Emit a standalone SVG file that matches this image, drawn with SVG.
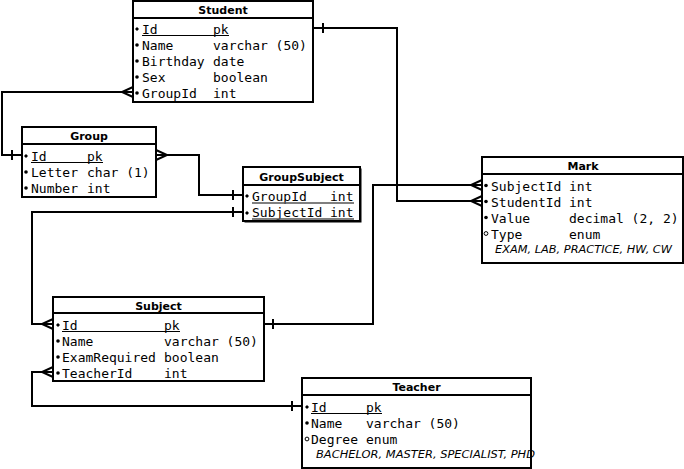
<svg xmlns="http://www.w3.org/2000/svg" width="684" height="469" viewBox="0 0 684 469">
<style>
.box{fill:#fff;stroke:#000;stroke-width:2}
.sep{stroke:#000;stroke-width:2}
.title{font-family:"DejaVu Sans",sans-serif;font-weight:bold;font-size:11px;text-anchor:middle;fill:#000}
.f{font-family:"DejaVu Sans Mono",monospace;font-size:13px;fill:#000}
.en{font-family:"DejaVu Sans",sans-serif;font-style:italic;font-size:11px;fill:#000}
.ul{stroke:#000;stroke-width:1.2}
.ul2{stroke:#555;stroke-width:1.6}
.dot{fill:#000}
.hol{fill:#fff;stroke:#000;stroke-width:1}
.c{fill:none;stroke:#000;stroke-width:2}
</style>
<g id="connectors">
  <path class="c" d="M313,28 H397 V201 H482"/>
  <path class="c" d="M323,23 V33"/>
  <path class="c" d="M482,196 L471,201 L482,206"/>
  <path class="c" d="M133,92 H2 V155 H22"/>
  <path class="c" d="M133,87 L122,92 L133,97"/>
  <path class="c" d="M12,150 V160"/>
  <path class="c" d="M156,155 H199 V195 H243"/>
  <path class="c" d="M156,150 L167,155 L156,160"/>
  <path class="c" d="M233,190 V200"/>
  <path class="c" d="M243,212 H32 V324 H53"/>
  <path class="c" d="M233,207 V217"/>
  <path class="c" d="M53,319 L42,324 L53,329"/>
  <path class="c" d="M264,324 H373 V185 H482"/>
  <path class="c" d="M273,319 V329"/>
  <path class="c" d="M482,180 L471,185 L482,190"/>
  <path class="c" d="M53,372 H32 V406 H302"/>
  <path class="c" d="M53,367 L42,372 L53,377"/>
  <path class="c" d="M292,401 V411"/>
</g>
<g id="Student">
  <rect class="box" x="133" y="1" width="180" height="101"/>
  <line class="sep" x1="133" y1="18" x2="313" y2="18"/>
  <text class="title" x="223" y="14">Student</text>
  <polygon class="dot" points="137,27 139,29 137,31 135,29"/>
  <circle class="dot" cx="137" cy="45" r="1.8"/>
  <circle class="dot" cx="137" cy="61" r="1.8"/>
  <circle class="dot" cx="137" cy="77" r="1.8"/>
  <circle class="dot" cx="137" cy="93" r="1.8"/>
  <text class="f" y="34"><tspan x="142">Id</tspan><tspan x="213">pk</tspan></text>
  <line class="ul" x1="142" y1="35.5" x2="229" y2="35.5"/>
  <text class="f" y="50"><tspan x="142">Name</tspan><tspan x="213">varchar (50)</tspan></text>
  <text class="f" y="66"><tspan x="142">Birthday</tspan><tspan x="213">date</tspan></text>
  <text class="f" y="82"><tspan x="142">Sex</tspan><tspan x="213">boolean</tspan></text>
  <text class="f" y="98"><tspan x="142">GroupId</tspan><tspan x="213">int</tspan></text>
</g>
<g id="Group">
  <rect class="box" x="22" y="127" width="134" height="70"/>
  <line class="sep" x1="22" y1="144" x2="156" y2="144"/>
  <text class="title" x="89" y="140">Group</text>
  <polygon class="dot" points="26,154 28,156 26,158 24,156"/>
  <circle class="dot" cx="26" cy="172" r="1.8"/>
  <circle class="dot" cx="26" cy="188" r="1.8"/>
  <text class="f" y="161"><tspan x="31">Id</tspan><tspan x="87">pk</tspan></text>
  <line class="ul" x1="31" y1="162.5" x2="103" y2="162.5"/>
  <text class="f" y="177"><tspan x="31">Letter</tspan><tspan x="87">char (1)</tspan></text>
  <text class="f" y="193"><tspan x="31">Number</tspan><tspan x="87">int</tspan></text>
</g>
<g id="GroupSubject">
  <rect x="244.5" y="168.5" width="117" height="54" fill="#000"/>
  <rect class="box" x="243" y="167" width="117" height="54"/>
  <line class="sep" x1="243" y1="185" x2="360" y2="185"/>
  <text class="title" x="301.5" y="181">GroupSubject</text>
  <polygon class="dot" points="247,194 249,196 247,198 245,196"/>
  <polygon class="dot" points="247,211 249,213 247,215 245,213"/>
  <text class="f" y="200.5"><tspan x="252">GroupId</tspan><tspan x="330">int</tspan></text>
  <line class="ul2" x1="252" y1="203" x2="354" y2="203"/>
  <text class="f" y="217"><tspan x="252">SubjectId</tspan><tspan x="330">int</tspan></text>
  <line class="ul2" x1="252" y1="219" x2="354" y2="219"/>
</g>
<g id="Mark">
  <rect class="box" x="482" y="157" width="201" height="106"/>
  <line class="sep" x1="482" y1="174" x2="683" y2="174"/>
  <text class="title" x="583" y="170">Mark</text>
  <circle class="dot" cx="486" cy="185.5" r="1.8"/>
  <circle class="dot" cx="486" cy="201.5" r="1.8"/>
  <circle class="dot" cx="486" cy="217.5" r="1.8"/>
  <circle class="hol" cx="486" cy="233.5" r="1.9"/>
  <text class="f" y="190.5"><tspan x="491">SubjectId</tspan><tspan x="569">int</tspan></text>
  <text class="f" y="206.5"><tspan x="491">StudentId</tspan><tspan x="569">int</tspan></text>
  <text class="f" y="222.5"><tspan x="491">Value</tspan><tspan x="569">decimal (2, 2)</tspan></text>
  <text class="f" y="238.5"><tspan x="491">Type</tspan><tspan x="569">enum</tspan></text>
  <text class="en" x="495" y="253" textLength="177" lengthAdjust="spacingAndGlyphs">EXAM, LAB, PRACTICE, HW, CW</text>
</g>
<g id="Subject">
  <rect class="box" x="53" y="297" width="211" height="84"/>
  <line class="sep" x1="53" y1="313" x2="264" y2="313"/>
  <text class="title" x="158.5" y="310">Subject</text>
  <polygon class="dot" points="58,323 60,325 58,327 56,325"/>
  <circle class="dot" cx="58" cy="341" r="1.8"/>
  <circle class="dot" cx="58" cy="357" r="1.8"/>
  <circle class="dot" cx="58" cy="373" r="1.8"/>
  <text class="f" y="330"><tspan x="62">Id</tspan><tspan x="164">pk</tspan></text>
  <line class="ul" x1="62" y1="331.5" x2="180" y2="331.5"/>
  <text class="f" y="346"><tspan x="62">Name</tspan><tspan x="164">varchar (50)</tspan></text>
  <text class="f" y="362"><tspan x="62">ExamRequired</tspan><tspan x="164">boolean</tspan></text>
  <text class="f" y="378"><tspan x="62">TeacherId</tspan><tspan x="164">int</tspan></text>
</g>
<g id="Teacher">
  <rect class="box" x="302" y="378" width="229" height="90"/>
  <line class="sep" x1="302" y1="395" x2="531" y2="395"/>
  <text class="title" x="416.5" y="391">Teacher</text>
  <polygon class="dot" points="307,405 309,407 307,409 305,407"/>
  <circle class="dot" cx="307" cy="423" r="1.8"/>
  <circle class="hol" cx="307" cy="439" r="1.9"/>
  <text class="f" y="412"><tspan x="311">Id</tspan><tspan x="366">pk</tspan></text>
  <line class="ul" x1="311" y1="413.5" x2="382" y2="413.5"/>
  <text class="f" y="428"><tspan x="311">Name</tspan><tspan x="366">varchar (50)</tspan></text>
  <text class="f" y="444"><tspan x="311">Degree</tspan><tspan x="366">enum</tspan></text>
  <text class="en" x="316" y="458" textLength="219" lengthAdjust="spacingAndGlyphs">BACHELOR, MASTER, SPECIALIST, PHD</text>
</g>
</svg>
